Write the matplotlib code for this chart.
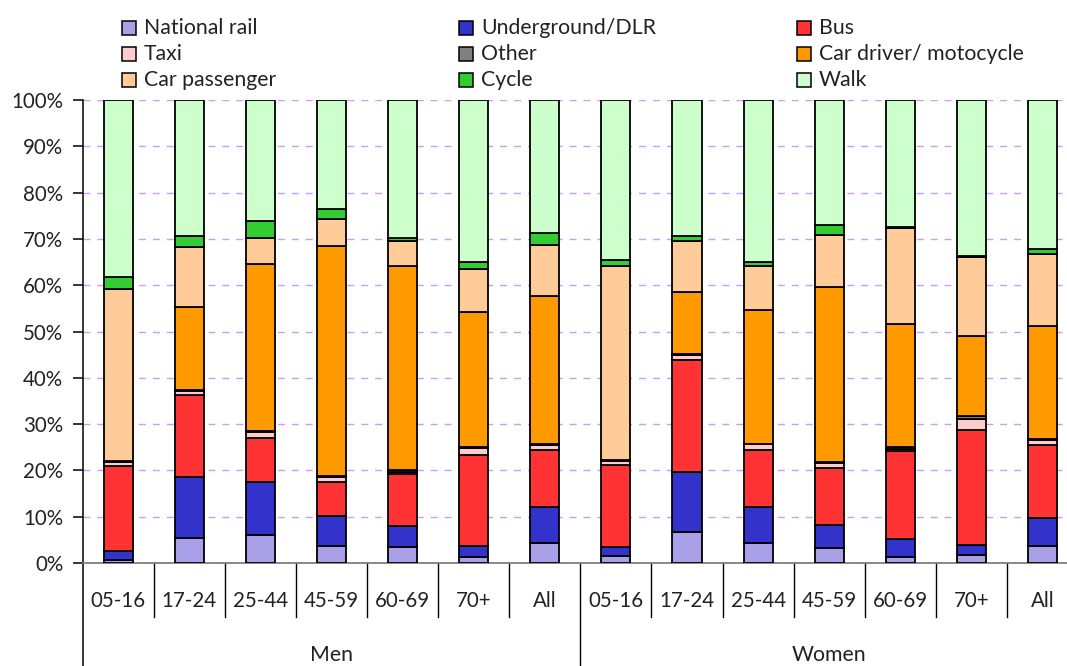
import matplotlib
matplotlib.use("Agg")
import matplotlib.pyplot as plt
from matplotlib.patches import Rectangle
from matplotlib.transforms import blended_transform_factory
import numpy as np

plt.rcParams['font.family'] = ['Lato', 'DejaVu Sans']

groups = ["Men", "Women"]
ages = ["05-16", "17-24", "25-44", "45-59", "60-69", "70+", "All"]
categories = ages + ages

modes = ["National rail", "Underground/DLR", "Bus", "Taxi", "Other",
         "Car driver/ motocycle", "Car passenger", "Cycle", "Walk"]
colors = ["#aaa0e8", "#3333cc", "#ff3333", "#ffcccc", "#808080",
          "#ff9900", "#ffcc99", "#33cc33", "#ccffcc"]

# Share of trips (%) by main mode, men then women
national_rail = [0.7, 5.4, 6.1, 3.6, 3.4, 1.4, 4.3, 1.5, 6.7, 4.4, 3.2, 1.4, 1.7, 3.6]
underground   = [1.8, 13.2, 11.3, 6.6, 4.6, 2.3, 7.9, 2.0, 13.0, 7.6, 4.9, 3.7, 2.1, 6.2]
bus           = [18.4, 17.6, 9.5, 7.2, 11.2, 19.6, 12.1, 17.6, 24.1, 12.4, 12.4, 19.0, 25.0, 15.6]
taxi          = [0.9, 0.9, 1.4, 1.1, 0.5, 1.5, 1.1, 0.9, 1.2, 1.2, 1.0, 0.6, 2.2, 1.1]
other         = [0.2, 0.2, 0.2, 0.2, 0.3, 0.3, 0.2, 0.2, 0.2, 0.2, 0.3, 0.4, 0.7, 0.2]
car_driver    = [0.1, 18.0, 36.0, 49.8, 44.2, 29.2, 32.0, 0.1, 13.3, 28.8, 37.8, 26.5, 17.3, 24.5]
car_passenger = [37.0, 12.9, 5.7, 5.7, 5.3, 9.2, 11.1, 41.9, 11.0, 9.5, 11.2, 20.8, 17.0, 15.5]
cycle         = [2.6, 2.5, 3.6, 2.3, 0.7, 1.5, 2.6, 1.2, 1.1, 0.9, 2.3, 0.2, 0.2, 1.1]
walk          = [38.3, 29.3, 26.2, 23.5, 29.8, 35.0, 28.7, 34.6, 29.4, 35.0, 26.9, 27.4, 33.8, 32.2]

series = [national_rail, underground, bus, taxi, other,
          car_driver, car_passenger, cycle, walk]

W, H = 1067, 666
TEXT = "#222222"
fig = plt.figure(figsize=(W / 100, H / 100), dpi=100)
ax = fig.add_axes([82.7 / W, 103 / H, 995.3 / W, 463 / H])

x = np.arange(len(categories))
bottom = np.zeros(len(categories))
for vals, col, name in zip(series, colors, modes):
    vals = np.asarray(vals, dtype=float)
    ax.bar(x, vals, width=0.41, bottom=bottom, color=col,
           edgecolor="black", linewidth=1.3, label=name, zorder=3)
    bottom += vals

ax.set_xlim(-0.5, len(categories) - 0.5)
ax.set_ylim(0, 100)
ax.set_yticks(np.arange(0, 101, 10))
ax.set_yticklabels([f"{v}%" for v in range(0, 101, 10)], fontsize=14.8, color=TEXT)
ax.tick_params(axis="y", direction="out", length=7, width=1.1, color="black", pad=7)
ax.set_xticks([])
ax.yaxis.grid(True, color="#cc99ff", linestyle=(0, (5, 5)), linewidth=1.0, zorder=0)
ax.set_axisbelow(True)

for side in ("top", "right"):
    ax.spines[side].set_visible(False)
ax.spines["left"].set_color("black")
ax.spines["left"].set_linewidth(1.1)
ax.spines["bottom"].set_color("#808080")
ax.spines["bottom"].set_linewidth(1.3)

# Category separators and labels below the axis
trans = blended_transform_factory(ax.transData, ax.transAxes)
short = -(617 - 563) / 463
long_ = -(H - 563) / 463 - 0.01
for k in range(1, len(categories) + 1):
    edge = k - 0.5
    y_end = long_ if k % len(ages) == 0 else short
    ax.plot([edge, edge], [0, y_end], transform=trans, color="black",
            linewidth=1.0, clip_on=False)
ax.plot([-0.5, -0.5], [0, long_], transform=trans, color="black",
        linewidth=1.1, clip_on=False)

for i, lab in enumerate(categories):
    ax.text(i, -(601 - 563) / 463, lab, transform=trans, ha="center",
            va="center", fontsize=14.8, color=TEXT)
for g, name in enumerate(groups):
    cx = g * len(ages) + (len(ages) - 1) / 2
    ax.text(cx, -(655 - 563) / 463, name, transform=trans, ha="center",
            va="center", fontsize=15.3, color=TEXT)

# Legend laid out row by row in three columns
col_x = [122, 459, 797]
row_y = [28, 54, 80]
for idx, (name, col) in enumerate(zip(modes, colors)):
    r, c = divmod(idx, 3)
    x0 = col_x[c]
    yc = row_y[r]
    sq = 14
    fig.add_artist(Rectangle((x0 / W, (H - yc - sq / 2) / H), sq / W, sq / H,
                             transform=fig.transFigure, facecolor=col,
                             edgecolor="black", linewidth=1.1))
    fig.text((x0 + 22) / W, (H - yc) / H, name, ha="left", va="center",
             fontsize=15.3, color=TEXT)

fig.savefig("out.png", dpi=100)
